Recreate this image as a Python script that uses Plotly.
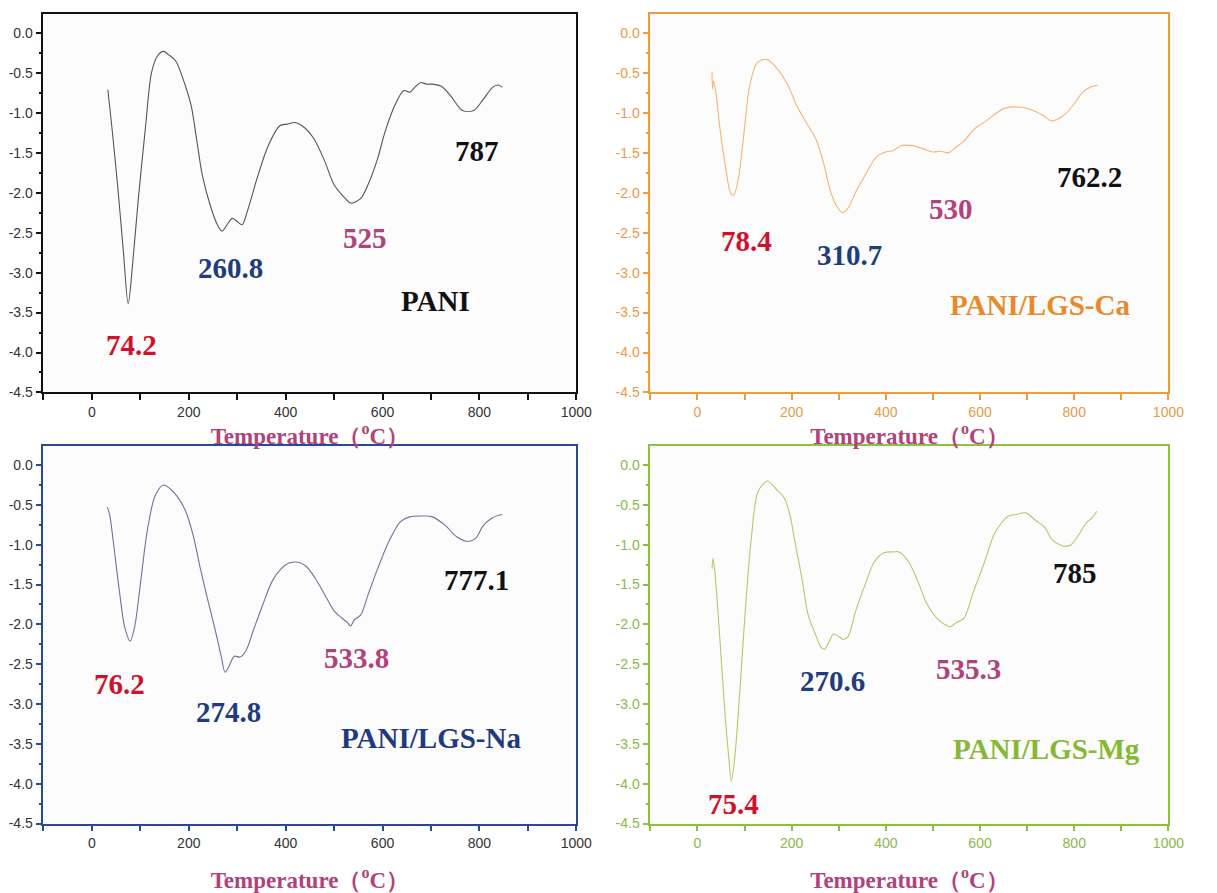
import plotly.graph_objects as go

# ---------------- data ----------------
pani_temp = [33, 41, 53, 65, 75, 84, 96, 111, 123, 135, 148, 158, 173, 193, 205, 216, 228, 244, 259, 269,
             279, 290, 300, 310, 321, 341, 364, 388, 403, 419, 434, 458, 481, 500, 520, 535, 555, 570, 590,
             605, 625, 644, 656, 668, 679, 691, 703, 722, 741, 765, 788, 808, 827, 839, 847]
pani_dtg = [-0.71, -1.16, -1.90, -2.73, -3.39, -2.90, -2.07, -1.16, -0.50, -0.29, -0.23, -0.27, -0.35, -0.66,
            -0.91, -1.32, -1.78, -2.15, -2.40, -2.48, -2.40, -2.32, -2.36, -2.40, -2.23, -1.82, -1.41, -1.16,
            -1.14, -1.12, -1.16, -1.32, -1.61, -1.90, -2.05, -2.13, -2.07, -1.90, -1.57, -1.24, -0.91, -0.72,
            -0.74, -0.67, -0.62, -0.64, -0.64, -0.67, -0.79, -0.97, -0.97, -0.83, -0.68, -0.65, -0.68]

ca_temp = [31, 32, 34, 39, 47, 59, 71, 77, 87, 99, 111, 127, 147, 167, 191, 211, 231, 251, 267, 283, 296,
           308, 320, 336, 356, 380, 400, 416, 432, 456, 480, 500, 516, 533, 549, 568, 588, 613, 633, 653,
           689, 713, 733, 752, 770, 782, 802, 818, 834, 850]
ca_dtg = [-0.48, -0.70, -0.60, -0.74, -1.16, -1.65, -2.01, -2.03, -1.82, -1.24, -0.66, -0.37, -0.33, -0.43,
          -0.64, -0.91, -1.12, -1.32, -1.61, -1.99, -2.17, -2.25, -2.19, -1.99, -1.78, -1.55, -1.49, -1.47,
          -1.41, -1.41, -1.45, -1.49, -1.48, -1.50, -1.43, -1.34, -1.20, -1.10, -1.01, -0.94, -0.93, -0.97,
          -1.03, -1.10, -1.06, -1.01, -0.87, -0.74, -0.68, -0.65]

na_temp = [32, 37, 45, 57, 68, 79, 88, 100, 115, 131, 148, 162, 177, 193, 209, 224, 240, 255, 267, 275, 282,
           294, 306, 318, 333, 353, 372, 391, 407, 426, 442, 461, 481, 500, 516, 528, 534, 542, 555, 570,
           590, 613, 637, 656, 683, 703, 730, 753, 777, 792, 808, 827, 847]
na_dtg = [-0.53, -0.63, -1.00, -1.59, -2.04, -2.21, -2.04, -1.50, -0.80, -0.38, -0.25, -0.30, -0.40, -0.57,
          -0.88, -1.30, -1.71, -2.08, -2.40, -2.60, -2.54, -2.40, -2.41, -2.33, -2.08, -1.75, -1.46, -1.30,
          -1.23, -1.22, -1.27, -1.42, -1.63, -1.83, -1.92, -1.98, -2.02, -1.94, -1.88, -1.63, -1.30, -0.96,
          -0.71, -0.65, -0.64, -0.65, -0.76, -0.90, -0.96, -0.92, -0.76, -0.66, -0.62]

mg_temp = [31, 33, 37, 47, 59, 67, 72, 80, 91, 103, 115, 127, 139, 149, 167, 183, 195, 207, 223, 235, 251,
           263, 270, 280, 289, 300, 310, 320, 336, 356, 376, 396, 416, 428, 448, 468, 488, 508, 525, 537,
           549, 566, 586, 610, 629, 645, 661, 677, 697, 717, 737, 753, 769, 781, 793, 809, 825, 838, 848]
mg_dtg = [-1.30, -1.17, -1.34, -2.13, -3.16, -3.70, -3.97, -3.62, -2.75, -1.71, -0.88, -0.36, -0.24, -0.20,
          -0.30, -0.40, -0.59, -0.96, -1.46, -1.88, -2.13, -2.29, -2.31, -2.21, -2.12, -2.15, -2.19, -2.15,
          -1.83, -1.50, -1.21, -1.10, -1.09, -1.09, -1.21, -1.46, -1.75, -1.92, -2.00, -2.03, -1.98, -1.92,
          -1.59, -1.21, -0.88, -0.73, -0.64, -0.62, -0.60, -0.69, -0.78, -0.94, -1.00, -1.02, -1.00, -0.88,
          -0.73, -0.66, -0.58]

sample_names = ["PANI", "PANI/LGS-Ca", "PANI/LGS-Na", "PANI/LGS-Mg"]

# peak labels per panel: text, x, y
pani_peaks = ["74.2", "260.8", "525", "787"]
pani_peak_x = [82, 286, 563, 794]
pani_peak_y = [-3.91, -2.94, -2.56, -1.48]

ca_peaks = ["78.4", "310.7", "530", "762.2"]
ca_peak_x = [105, 322, 538, 832]
ca_peak_y = [-2.60, -2.78, -2.20, -1.80]

na_peaks = ["76.2", "274.8", "533.8", "777.1"]
na_peak_x = [57, 282, 547, 794]
na_peak_y = [-2.75, -3.10, -2.42, -1.44]

mg_peaks = ["75.4", "270.6", "535.3", "785"]
mg_peak_x = [77, 286, 575, 802]
mg_peak_y = [-4.26, -2.71, -2.56, -1.36]

name_x = [710, 727, 699, 742]
name_y = [-3.36, -3.41, -3.43, -3.57]

x_title = "Temperature（<sup>o</sup>C）"

# ---------------- styling ----------------
W, H = 1217, 893
SERIF = "Liberation Serif, Times New Roman, serif"
SANS = "Liberation Sans, Arial, sans-serif"
peak_colors = ["#d0112b", "#1f3c7d", "#b0427c", "#111111"]

panels = [
    dict(t=pani_temp, v=pani_dtg, line="#555555", frame="#111111", tick="#333333", name_col="#111111",
         px=pani_peak_x, py=pani_peak_y, pt=pani_peaks, dom_x=(44, 584), dom_y=(14, 396)),
    dict(t=ca_temp, v=ca_dtg, line="#f2b57a", frame="#ee9a3e", tick="#e89a48", name_col="#e8892c",
         px=ca_peak_x, py=ca_peak_y, pt=ca_peaks, dom_x=(659, 1184), dom_y=(14, 396)),
    dict(t=na_temp, v=na_dtg, line="#6d7499", frame="#2b4896", tick="#333333", name_col="#1f3a80",
         px=na_peak_x, py=na_peak_y, pt=na_peaks, dom_x=(44, 584), dom_y=(450, 831)),
    dict(t=mg_temp, v=mg_dtg, line="#b8c66e", frame="#8cc040", tick="#8ab84a", name_col="#86b834",
         px=mg_peak_x, py=mg_peak_y, pt=mg_peaks, dom_x=(659, 1184), dom_y=(450, 831)),
]

fig = go.Figure()
annotations = []
layout = dict(width=W, height=H, margin=dict(l=0, r=0, t=0, b=0),
              paper_bgcolor="#ffffff", plot_bgcolor="#fcfcfc", showlegend=False)

for i, p in enumerate(panels):
    k = "" if i == 0 else str(i + 1)
    fig.add_trace(go.Scatter(x=p["t"], y=p["v"], mode="lines", xaxis="x" + k, yaxis="y" + k,
                             line=dict(color=p["line"], width=1.1, shape="spline", smoothing=0.9),
                             name=sample_names[i], hoverinfo="x+y"))
    x0, x1 = p["dom_x"]
    ytop, ybot = p["dom_y"]
    standoff = 8 if i < 2 else 22
    layout["xaxis" + k] = dict(
        domain=[x0 / W, x1 / W], anchor="y" + k, range=[-100, 1000],
        tickmode="array", tickvals=[0, 200, 400, 600, 800, 1000],
        ticks="outside", ticklen=6, tickwidth=1.5, tickcolor=p["frame"],
        minor=dict(tickmode="array", tickvals=[-100, 100, 300, 500, 700, 900],
                   ticks="outside", ticklen=6, tickwidth=1.5, tickcolor=p["frame"]),
        showline=True, linecolor=p["frame"], linewidth=1.6, mirror=True,
        showgrid=False, zeroline=False,
        tickfont=dict(family=SANS, size=14, color=p["tick"]),
        title=dict(text=x_title, standoff=standoff,
                   font=dict(family=SERIF, size=23, color="#b0427c", weight="bold")),
    )
    layout["yaxis" + k] = dict(
        domain=[1 - ybot / H, 1 - ytop / H], anchor="x" + k, range=[-4.5, 0.24],
        tickmode="array", tickvals=[0, -0.5, -1, -1.5, -2, -2.5, -3, -3.5, -4, -4.5],
        ticktext=["0.0", "-0.5", "-1.0", "-1.5", "-2.0", "-2.5", "-3.0", "-3.5", "-4.0", "-4.5"],
        ticks="outside", ticklen=6, tickwidth=1.5, tickcolor=p["frame"],
        minor=dict(tickmode="array", tickvals=[-0.25, -0.75, -1.25, -1.75, -2.25, -2.75, -3.25, -3.75, -4.25],
                   ticks="outside", ticklen=3, tickwidth=1.5, tickcolor=p["frame"]),
        showline=True, linecolor=p["frame"], linewidth=1.6, mirror=True,
        showgrid=False, zeroline=False,
        tickfont=dict(family=SANS, size=14, color=p["tick"]),
    )
    for j, (tx, xx, yy) in enumerate(zip(p["pt"], p["px"], p["py"])):
        annotations.append(dict(x=xx, y=yy, xref="x" + k, yref="y" + k, text="<b>%s</b>" % tx,
                                showarrow=False, font=dict(family=SERIF, size=29, color=peak_colors[j])))
    annotations.append(dict(x=name_x[i], y=name_y[i], xref="x" + k, yref="y" + k,
                            text="<b>%s</b>" % sample_names[i], showarrow=False,
                            font=dict(family=SERIF, size=29, color=p["name_col"])))

layout["annotations"] = annotations
fig.update_layout(**layout)
fig.write_html("out.html")
